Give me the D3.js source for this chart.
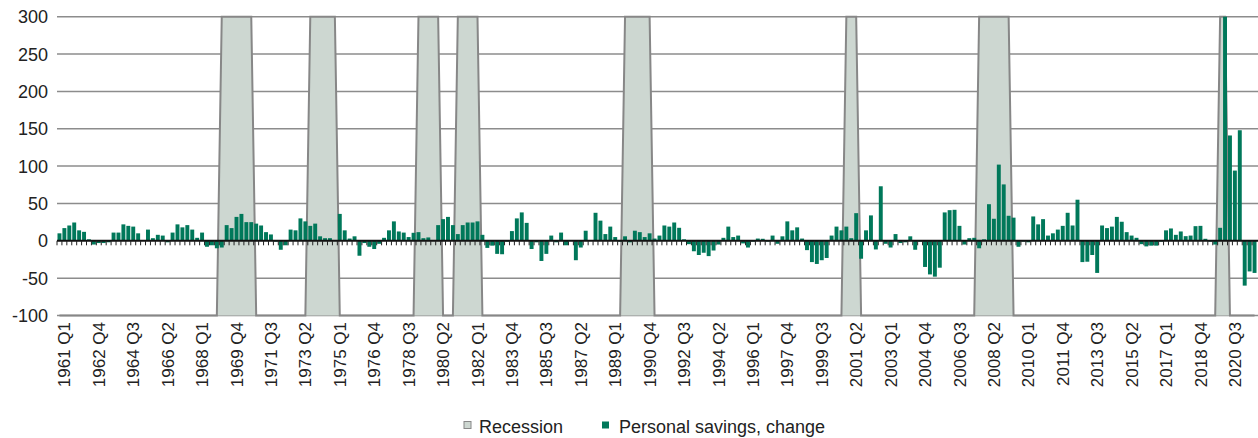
<!DOCTYPE html>
<html><head><meta charset="utf-8">
<script src="https://cdn.jsdelivr.net/npm/d3@7"></script>
<style>
body{margin:0;background:#fff}
text{font-family:"Liberation Sans",Arial,Helvetica,sans-serif;fill:#222}
</style>
</head><body>
<svg id="chart" width="1258" height="438"></svg>
<script>
// ---- data ----
const firstYear = 1961;
const lastYear = 2021;
const quarters = [];
for (let y = firstYear; y <= lastYear; y++) for (let q = 1; q <= 4; q++) quarters.push(`${y} Q${q}`);

const savingsChange = [
  10, 17, 20.5, 24.5, 14, 12, 2, -5, -3, -3,
  -2, 11, 11, 22, 20, 19, 10, 1, 15, 3.5,
  8, 7, -2, 11, 22, 18, 21, 15, 4, 11,
  -8, -6, -10, -9, 21, 17, 32, 36, 25, 25,
  23, 20.5, 11.6, 8.5, -1, -12, -6, 15, 14, 30,
  26, 20, 23, 6, 3.5, 3.5, 1, 36, 14, 3,
  6, -20, -3, -8, -11, -4, 4, 14, 26, 12.5,
  11, 5, 10.7, 11.6, 3.5, 4.5, 0.5, 21, 29, 32,
  21, 9, 21, 24.5, 24.5, 26, 8, -9.5, -6.5, -17.5,
  -18, -1, 13, 30, 38, 24, -11, -2, -27, -17.5,
  7, -2, 11, -6, 1, -26, -9, 13.5, 0, 37.5,
  27, 9, 19, 5, -1, 6, -2, 13.5, 11.6, 5,
  10, 3, 7, 20.5, 19, 24.5, 17.4, 2, -4.5, -14,
  -19, -16, -20.5, -13, -5, 4, 19, 5, 7, -3.5,
  -9, -1, 3, 2.7, -1, 7, -4, 6, 26, 14,
  18, 3, -12.5, -28.5, -31, -26, -23, 7, 19, 14,
  19, 3.5, 37, -24, 14, 34, -11.6, 73, -4, -9,
  9, -3, -2, 6, -12, -1, -35, -45, -48, -36,
  38, 41, 41.5, 20, -5, 3.5, 4, -10, 2, 49,
  29.5, 102, 75.5, 33.5, 31, -8, -1, -2, 32.6, 22,
  29, 7, 10, 15, 20, 37.5, 20.5, 55, -28.5, -28,
  -19, -43, 20.5, 17, 19, 32, 25.5, 11.6, 7, 4,
  -4.5, -7.5, -6.5, -6.5, -1, 14, 16.5, 8, 12.5, 6.2,
  7, 19.6, 20, 2.7, -1, -5, 17.4, 300, 141, 94,
  148, -60, -41, -43
];

const recessionStart = ["1969 Q2", "1973 Q4", "1979 Q2", "1981 Q2", "1989 Q4", "2001 Q1", "2007 Q4", "2020 Q1"];
const recessionEnd   = ["1970 Q4", "1975 Q1", "1980 Q2", "1982 Q2", "1991 Q1", "2001 Q3", "2009 Q2", "2020 Q2"];

const xTickLabels = ["1961 Q1","1962 Q4","1964 Q3","1966 Q2","1968 Q1","1969 Q4","1971 Q3","1973 Q2","1975 Q1",
  "1976 Q4","1978 Q3","1980 Q2","1982 Q1","1983 Q4","1985 Q3","1987 Q2","1989 Q1","1990 Q4","1992 Q3",
  "1994 Q2","1996 Q1","1997 Q4","1999 Q3","2001 Q2","2003 Q1","2004 Q4","2006 Q3","2008 Q2","2010 Q1",
  "2011 Q4","2013 Q3","2015 Q2","2017 Q1","2018 Q4","2020 Q3"];
const yTicks = [-100, -50, 0, 50, 100, 150, 200, 250, 300];
const legendLabels = ["Recession", "Personal savings, change"];

// recession series: top of axis inside recession, bottom otherwise
const recessionValues = quarters.map((q, i) => {
  const inRec = recessionStart.some((s, k) => i >= quarters.indexOf(s) && i <= quarters.indexOf(recessionEnd[k]));
  return inRec ? 300 : -100;
});

// ---- drawing ----
const svg = d3.select("#chart");
const left = 57, right = 1257;
const x = d3.scaleBand().domain(quarters).range([left, right]).paddingInner(0.2).paddingOuter(0.1);
const y = d3.scaleLinear().domain([-100, 300]).range([315.5, 16.7]);
const bw = x.bandwidth();
const cx = q => x(q) + bw / 2;

// gridlines
svg.append("g").selectAll("line").data(yTicks.filter(v => v !== 0)).join("line")
  .attr("x1", left).attr("x2", 1258)
  .attr("y1", d => y(d)).attr("y2", d => y(d))
  .attr("stroke", "#8c8c8c").attr("stroke-width", 1.5);

// recession area
const recData = quarters.map((q, i) => ({q, v: recessionValues[i]}));
svg.append("path").datum(recData)
  .attr("d", d3.area().x(d => cx(d.q)).y0(y(-100)).y1(d => y(d.v)))
  .attr("fill", "#cdd7d1");
svg.append("path").datum(recData)
  .attr("d", d3.line().x(d => cx(d.q)).y(d => y(d.v)))
  .attr("fill", "none").attr("stroke", "#878787").attr("stroke-width", 2);

// bars
svg.append("g").selectAll("rect").data(quarters.map((q, i) => ({q, v: savingsChange[i]}))).join("rect")
  .attr("x", d => x(d.q)).attr("width", bw)
  .attr("y", d => y(Math.max(0, d.v)))
  .attr("height", d => Math.abs(y(d.v) - y(0)))
  .attr("fill", "#00785a");

// zero axis + ticks
const step = x.step();
svg.append("line").attr("x1", left).attr("x2", 1258).attr("y1", y(0)).attr("y2", y(0))
  .attr("stroke", "#111").attr("stroke-width", 2);
svg.append("g").selectAll("line").data(quarters).join("line")
  .attr("x1", d => x(d) - step * 0.1).attr("x2", d => x(d) - step * 0.1)
  .attr("y1", y(0)).attr("y2", y(0) + 4.5)
  .attr("stroke", "#222").attr("stroke-width", 1);

// y labels
svg.append("g").selectAll("text").data(yTicks).join("text")
  .attr("x", 48).attr("y", d => y(d)).attr("dy", "0.36em")
  .attr("text-anchor", "end").attr("font-size", 18)
  .text(d => d);

// x labels
svg.append("g").selectAll("text").data(xTickLabels).join("text")
  .attr("transform", d => `translate(${cx(d) + 11},322) rotate(-90)`)
  .attr("text-anchor", "end").attr("font-size", 17)
  .text(d => d);

// legend
const lg = svg.append("g");
lg.append("rect").attr("x", 464).attr("y", 421.5).attr("width", 7).attr("height", 7)
  .attr("fill", "#cdd7d1").attr("stroke", "#888").attr("stroke-width", 1);
lg.append("text").attr("x", 479).attr("y", 432.5).attr("font-size", 18).text(legendLabels[0]);
lg.append("rect").attr("x", 602).attr("y", 421.5).attr("width", 7).attr("height", 7)
  .attr("fill", "#00785a");
lg.append("text").attr("x", 619).attr("y", 432.5).attr("font-size", 18).text(legendLabels[1]);
</script>
</body></html>
